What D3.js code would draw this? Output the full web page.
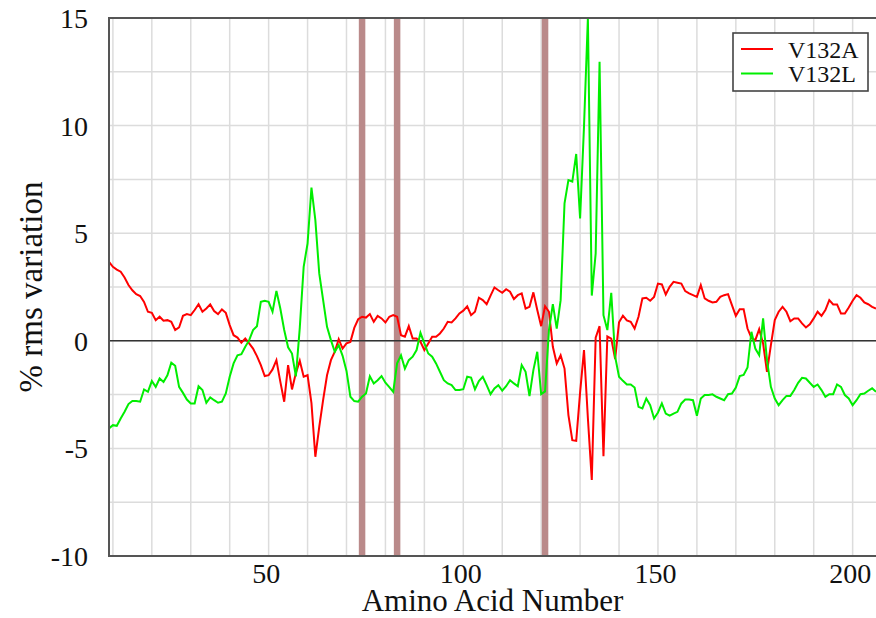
<!DOCTYPE html>
<html>
<head>
<meta charset="utf-8">
<script src="https://cdn.jsdelivr.net/npm/d3@7"></script>
<style>
  html, body { margin: 0; padding: 0; background: #fff; }
  svg { display: block; }
  text { font-family: "Liberation Serif", "Times New Roman", serif; fill: #111; }
</style>
</head>
<body>
<svg id="chart" width="876" height="618"></svg>
<script>
// ---- data ----
const startResidue = 9;
const seriesNames = ["V132A", "V132L"];
const v132a = [
  3.67, 3.44, 3.31, 3.21, 2.94, 2.59, 2.35, 2.17, 2.08, 1.81,
  1.35, 1.30, 0.96, 1.12, 0.93, 0.96, 0.88, 0.50, 0.62, 1.16,
  1.24, 1.19, 1.43, 1.70, 1.35, 1.50, 1.69, 1.38, 1.24, 1.46,
  1.30, 0.73, 0.26, 0.15, -0.09, 0.11, -0.12, -0.36, -0.71, -1.13,
  -1.64, -1.60, -1.33, -0.90, -1.90, -2.83, -1.13, -2.26, -1.50, -0.93,
  -1.67, -1.60, -2.90, -5.39, -4.00, -2.75, -1.60, -0.90, -0.50, 0.08,
  -0.36, -0.12, -0.05, 0.60, 1.00, 1.12, 1.08, 1.24, 0.88, 1.16,
  1.04, 0.85, 1.12, 1.19, 1.12, 0.26, 0.19, 0.68, 0.11, 0.11,
  -0.05, -0.43, -0.12, 0.19, 0.19, 0.34, 0.57, 0.88, 0.85, 1.04,
  1.27, 1.40, 1.60, 1.19, 1.35, 2.00, 1.89, 1.70, 2.10, 2.48,
  2.35, 2.23, 2.40, 2.28, 1.94, 2.12, 2.20, 1.50, 1.58, 2.25,
  1.43, 0.68, 1.61, 1.35, -0.28, -1.05, -0.67, -1.29, -3.45, -4.62,
  -4.65, -2.40, -0.43, -3.60, -6.47, 0.15, 0.68, -5.36, 0.20, 0.10,
  -0.85, 0.86, 1.17, 0.95, 0.88, 0.57, 1.12, 1.97, 2.00, 1.86,
  2.04, 2.66, 2.62, 2.15, 2.51, 2.74, 2.70, 2.66, 2.31, 2.20,
  2.12, 2.04, 2.59, 1.97, 1.86, 1.78, 1.81, 2.04, 2.12, 2.17,
  1.66, 1.16, 1.47, 1.47, 0.57, 0.14, 0.03, 0.54, -0.12, -1.44,
  -0.20, 0.96, 1.35, 1.58, 1.35, 0.91, 1.04, 1.04, 0.81, 0.62,
  0.77, 1.04, 1.35, 1.16, 1.43, 1.89, 1.69, 1.69, 1.27, 1.27,
  1.55, 1.86, 2.12, 2.00, 1.78, 1.70, 1.58, 1.50
];
const v132l = [
  -4.07, -3.92, -3.95, -3.61, -3.30, -2.94, -2.80, -2.80, -2.83, -2.26,
  -2.37, -1.87, -2.14, -1.75, -1.91, -1.60, -1.02, -1.16, -2.14, -2.42,
  -2.73, -2.91, -2.91, -2.11, -2.29, -2.88, -2.63, -2.76, -2.88, -2.83,
  -2.45, -1.67, -1.05, -0.67, -0.62, -0.28, 0.03, 0.50, 0.68, 1.81,
  1.86, 1.81, 1.35, 2.32, 1.50, 0.50, -0.30, -0.59, -1.65, 0.60,
  3.44, 4.52, 7.12, 5.61, 3.13, 1.89, 0.65, 0.03, -0.51, -0.20,
  -0.70, -1.40, -2.60, -2.80, -2.83, -2.60, -2.45, -1.65, -1.98, -1.83,
  -1.64, -1.95, -2.15, -2.37, -1.05, -0.67, -1.29, -0.90, -0.74, -0.43,
  0.37, -0.12, -0.59, -0.74, -1.05, -1.44, -1.83, -1.98, -2.06, -2.29,
  -2.29, -2.25, -1.67, -1.71, -2.25, -1.87, -1.67, -2.06, -2.48, -2.21,
  -2.06, -2.32, -2.11, -1.83, -1.98, -2.11, -1.13, -1.44, -2.57, -1.36,
  -0.51, -2.48, -2.35, 0.50, 1.70, 0.57, 1.89, 6.39, 7.47, 7.40,
  8.68, 5.69, 9.95, 15.0, 2.10, 4.06, 12.97, 1.19, 0.50, 2.23,
  -0.74, -1.67, -1.86, -2.03, -2.03, -2.17, -3.07, -3.14, -2.68, -2.99,
  -3.61, -3.33, -2.91, -3.38, -3.48, -3.38, -3.30, -2.91, -2.73, -2.73,
  -2.76, -3.48, -2.68, -2.52, -2.52, -2.49, -2.60, -2.68, -2.76, -2.48,
  -2.45, -2.17, -1.64, -1.59, -1.24, 0.42, -0.36, -0.67, 1.04, -0.90,
  -2.14, -2.68, -2.99, -2.76, -2.56, -2.56, -2.29, -1.95, -1.72, -1.75,
  -1.95, -2.14, -2.03, -2.29, -2.60, -2.48, -2.48, -2.03, -2.14, -2.52,
  -2.68, -2.99, -2.76, -2.48, -2.45, -2.32, -2.21, -2.37
];
const markedResidues = [74, 83, 121];
const xTickValues = [50, 100, 150, 200];
const yTickValues = [-10, -5, 0, 5, 10, 15];
const xLabel = "Amino Acid Number";
const yLabel = "% rms variation";
const seriesColors = ["#ff0000", "#00ee00"];

(function () {
// ---- layout ----
const pL = 109, pR = 876, pT = 18, pB = 556;
const svg = d3.select("#chart");

const x = d3.scaleLinear().domain([startResidue, startResidue + v132a.length - 1]).range([pL, pR]);
const y = d3.scaleLinear().domain([-10, 15]).range([pB, pT]);

// grid
const grid = svg.append("g").attr("stroke", "#dcdcdc").attr("stroke-width", 1.5);
grid.selectAll("line.v").data(d3.range(10, 206, 10)).join("line").attr("class", "v")
  .attr("x1", d => x(d)).attr("x2", d => x(d)).attr("y1", pT).attr("y2", pB);
grid.selectAll("line.h").data(d3.range(-7.5, 15, 2.5)).join("line").attr("class", "h")
  .attr("x1", pL).attr("x2", pR).attr("y1", d => y(d)).attr("y2", d => y(d));

// marker bars
svg.append("g").selectAll("line").data(markedResidues).join("line")
  .attr("x1", d => x(d)).attr("x2", d => x(d)).attr("y1", pT).attr("y2", pB)
  .attr("stroke", "rgb(186,138,138)").attr("stroke-width", 6.5);

// zero line
svg.append("line").attr("x1", pL).attr("x2", pR).attr("y1", y(0)).attr("y2", y(0))
  .attr("stroke", "#333").attr("stroke-width", 1.6);

// clip
svg.append("clipPath").attr("id", "plotclip").append("rect")
  .attr("x", pL).attr("y", pT).attr("width", pR - pL).attr("height", pB - pT);

const line = d3.line().x((d, i) => x(startResidue + i)).y(d => y(d));
[v132a, v132l].forEach((s, k) => {
  svg.append("path").datum(s).attr("d", line)
    .attr("fill", "none").attr("stroke", seriesColors[k]).attr("stroke-width", 2)
    .attr("stroke-linejoin", "miter").attr("clip-path", "url(#plotclip)");
});

// frame (left, top, bottom)
svg.append("path")
  .attr("d", `M${pR},${pT}H${pL}V${pB}H${pR}`)
  .attr("fill", "none").attr("stroke", "#555").attr("stroke-width", 2);

// axes labels
const fmt = d => String(d);
const yAxis = d3.axisLeft(y).tickValues(yTickValues).tickSize(0).tickPadding(21).tickFormat(fmt);
const gy = svg.append("g").attr("transform", `translate(${pL},0)`).call(yAxis);
gy.select(".domain").remove();
gy.selectAll("text").attr("font-size", 28).attr("font-family", "Liberation Serif").attr("fill", "#111").attr("dy", "0.34em");

const xAxis = d3.axisBottom(x).tickValues(xTickValues).tickSize(0).tickPadding(7).tickFormat(fmt);
const gx = svg.append("g").attr("transform", `translate(-3,${pB})`).call(xAxis);
gx.select(".domain").remove();
gx.selectAll("text").attr("font-size", 28).attr("font-family", "Liberation Serif").attr("fill", "#111");

svg.append("text").attr("x", (pL + pR) / 2).attr("y", 611)
  .attr("text-anchor", "middle").attr("font-size", 31).text(xLabel);
svg.append("text").attr("transform", `translate(42,${(pT + pB) / 2}) rotate(-90)`)
  .attr("text-anchor", "middle").attr("font-size", 33).text(yLabel);

// legend
const lg = svg.append("g");
lg.append("rect").attr("x", 733).attr("y", 33).attr("width", 135).attr("height", 58)
  .attr("fill", "#fff").attr("stroke", "#444").attr("stroke-width", 1.6);
seriesNames.forEach((n, k) => {
  const yy = 49 + k * 24.5;
  lg.append("line").attr("x1", 741).attr("x2", 773).attr("y1", yy).attr("y2", yy)
    .attr("stroke", seriesColors[k]).attr("stroke-width", 2);
  lg.append("text").attr("x", 788).attr("y", yy + 8.5).attr("font-size", 24).text(n);
});
})();
</script>
</body>
</html>
